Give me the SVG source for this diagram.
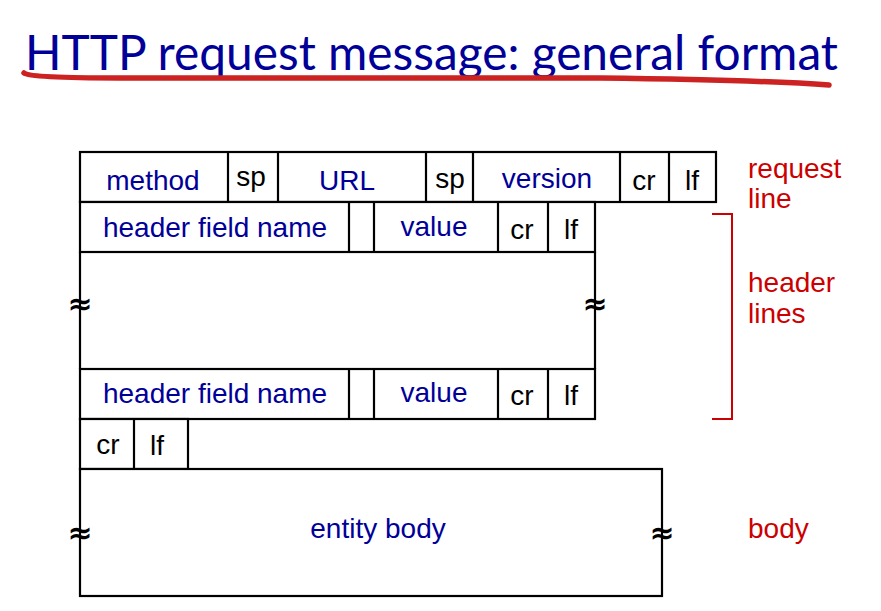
<svg xmlns="http://www.w3.org/2000/svg" width="881" height="611" viewBox="0 0 881 611">
<style>
.box{fill:#fff;stroke:#000;stroke-width:2.2}
.ln{stroke:#000;stroke-width:2.2;fill:none}
.b{font-family:"Liberation Sans",Arial,sans-serif;font-size:28px;fill:#000099;text-anchor:middle}
.k{font-family:"Liberation Sans",Arial,sans-serif;font-size:28px;fill:#000;text-anchor:middle}
.r{font-family:"Liberation Sans",Arial,sans-serif;font-size:28px;fill:#cc0000}
.w{font-family:"DejaVu Sans",sans-serif;font-size:30px;font-weight:bold;fill:#000;text-anchor:middle}
</style>
<rect width="881" height="611" fill="#fff"/>
<g id="title">
<text x="25" y="70" font-family="Lato,'Open Sans',sans-serif" font-size="48" fill="#000099" textLength="813" lengthAdjust="spacingAndGlyphs">HTTP request message: general format</text>
<path d="M24,73 Q30,78 120,78 L600,78 Q760,80 829,85" stroke="#cc2222" stroke-width="5.5" fill="none" stroke-linecap="round"/>
</g>
<g id="request-line">
<rect class="box" x="80" y="152" width="636" height="50"/>
<path class="ln" d="M228,152V202M278,152V202M426,152V202M473,152V202M620,152V202M669,152V202"/>
<text class="b" x="153" y="190">method</text>
<text class="k" x="251" y="186">sp</text>
<text class="b" x="347" y="190">URL</text>
<text class="k" x="450" y="188">sp</text>
<text class="b" x="547" y="188">version</text>
<text class="k" x="644" y="190">cr</text>
<text class="k" x="692" y="190">lf</text>
</g>
<g id="header-line-1">
<rect class="box" x="80" y="202" width="515" height="50"/>
<path class="ln" d="M349,202V252M374,202V252M498,202V252M548,202V252"/>
<text class="b" x="215" y="237">header field name</text>
<text class="b" x="434" y="236">value</text>
<text class="k" x="522" y="239">cr</text>
<text class="k" x="571" y="239">lf</text>
</g>
<g id="header-gap">
<path class="ln" d="M80,252V369M595,252V369"/>
<text class="w" x="80" y="314">≈</text>
<text class="w" x="595" y="314">≈</text>
</g>
<g id="header-line-n">
<rect class="box" x="80" y="369" width="515" height="50"/>
<path class="ln" d="M349,369V419M374,369V419M498,369V419M548,369V419"/>
<text class="b" x="215" y="403">header field name</text>
<text class="b" x="434" y="402">value</text>
<text class="k" x="522" y="405">cr</text>
<text class="k" x="571" y="405">lf</text>
</g>
<g id="blank-line">
<rect class="box" x="80" y="419" width="108" height="50"/>
<path class="ln" d="M134,419V469"/>
<text class="k" x="108" y="454">cr</text>
<text class="k" x="157" y="455">lf</text>
</g>
<g id="entity-body">
<rect class="box" x="80" y="469" width="582" height="127"/>
<text class="b" x="378" y="538">entity body</text>
<text class="w" x="80" y="543">≈</text>
<text class="w" x="662" y="543">≈</text>
</g>
<g id="labels">
<text class="r" x="748" y="178">request</text>
<text class="r" x="748" y="208">line</text>
<path d="M712,214H732V419H712" stroke="#cc0000" stroke-width="2" fill="none"/>
<text class="r" x="748" y="292">header</text>
<text class="r" x="748" y="323">lines</text>
<text class="r" x="748" y="538">body</text>
</g>
</svg>
